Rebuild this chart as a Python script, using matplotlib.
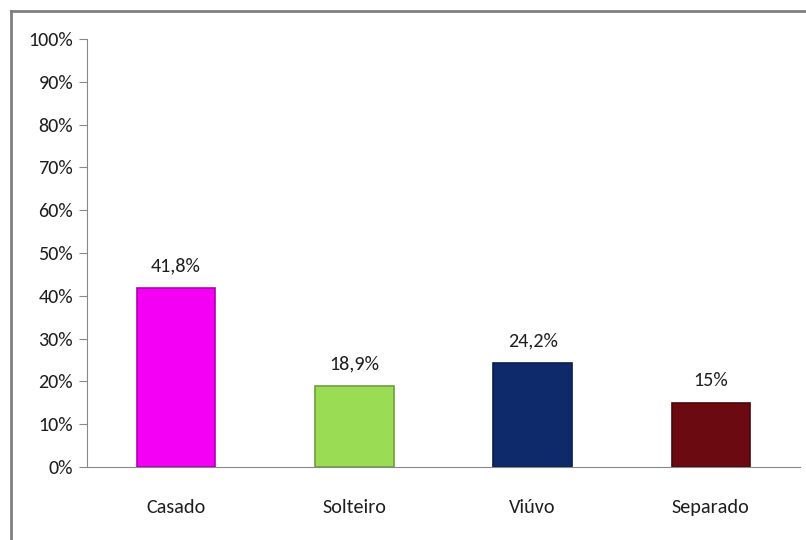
import matplotlib
matplotlib.use('Agg')
import matplotlib.pyplot as plt
from matplotlib.lines import Line2D

categories = ['Casado', 'Solteiro', 'Viúvo', 'Separado']
values = [41.8, 18.9, 24.2, 15.0]
value_labels = ['41,8%', '18,9%', '24,2%', '15%']
colors = ['#F400F4', '#9BDC55', '#0E2A6A', '#6C0A12']
edges = ['#B000B0', '#6FA03A', '#0A1D4A', '#4A060C']
yticks = list(range(0, 101, 10))

plt.rcParams['font.family'] = ['Carlito', 'Liberation Sans', 'DejaVu Sans']

W, H = 806, 540
fig = plt.figure(figsize=(W / 100, H / 100), dpi=100)
ax = fig.add_axes([87 / W, 1 - 467 / H, (800 - 87) / W, (467 - 39) / H])

x = range(len(categories))
ax.bar(x, values, width=0.44, color=colors, edgecolor=edges, linewidth=1.2, zorder=2)
for i, v in enumerate(values):
    ax.text(i, v + 3.2, value_labels[i], ha='center', va='bottom', fontsize=14.5, color='#1e1e1e')

ax.set_xlim(-0.5, len(categories) - 0.5)
ax.set_ylim(0, 100)
ax.set_yticks(yticks)
ax.set_yticklabels([str(t) + '%' for t in yticks], fontsize=14.5, color='#1e1e1e')
ax.set_xticks(list(x))
ax.set_xticklabels(categories, fontsize=14.5, color='#1e1e1e')
ax.tick_params(axis='x', length=0, pad=23)
ax.tick_params(axis='y', length=6, color='#888888', pad=4)
for s in ['top', 'right']:
    ax.spines[s].set_visible(False)
ax.spines['left'].set_color('#888888')
ax.spines['bottom'].set_color('#888888')

# outer chart frame (top and left edges visible)
fig.add_artist(Line2D([11 / W, 1], [1 - 11 / H, 1 - 11 / H], color='#808080', lw=2))
fig.add_artist(Line2D([11 / W, 11 / W], [0, 1 - 11 / H], color='#808080', lw=2))

fig.savefig('out.png', dpi=100)
